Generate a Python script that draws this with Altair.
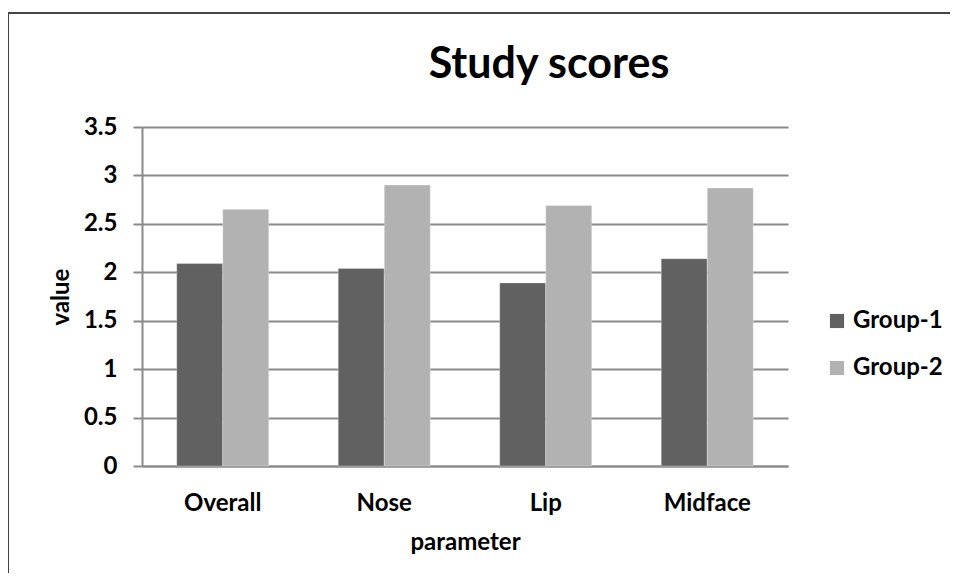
import altair as alt
import pandas as pd

categories = ["Overall", "Nose", "Lip", "Midface"]
groups = ["Group-1", "Group-2"]
group1 = [2.09, 2.04, 1.89, 2.14]
group2 = [2.65, 2.90, 2.69, 2.87]
y_ticks = [0, 0.5, 1, 1.5, 2, 2.5, 3, 3.5]

rows = []
for c, a, b in zip(categories, group1, group2):
    rows.append({"parameter": c, "group": groups[0], "value": a})
    rows.append({"parameter": c, "group": groups[1], "value": b})
df = pd.DataFrame(rows)

FONT = "Lato"
FS = 24
W, H = 646, 339
PADL, PADT = 134, 119
PADR, PADB = 958 - 16 - PADL - W, 581 - 16 - PADT - H

txt = dict(labelFont=FONT, labelFontSize=FS, labelFontWeight="bold", labelColor="#000000",
           titleFont=FONT, titleFontSize=FS, titleFontWeight="bold", titleColor="#000000")

bars = alt.Chart(df).mark_bar(stroke="#ffffff", strokeWidth=0.6, strokeOpacity=0.5).encode(
    x=alt.X("parameter:N", sort=categories,
            scale=alt.Scale(paddingInner=0.43, paddingOuter=0.215),
            axis=alt.Axis(title="parameter", labelAngle=0, ticks=False, labelPadding=25,
                          titlePadding=15, domainColor="#8a8a8a", domainWidth=2, **txt)),
    xOffset=alt.XOffset("group:N", sort=groups),
    y=alt.Y("value:Q", scale=alt.Scale(domain=[0, 3.5], nice=False),
            axis=alt.Axis(title="value", values=y_ticks, format="~g", tickSize=9,
                          tickColor="#8a8a8a", tickWidth=2, domainColor="#8a8a8a",
                          domainWidth=2, gridColor="#8a8a8a", gridWidth=2,
                          labelPadding=16, titlePadding=10, **txt)),
    color=alt.Color("group:N", sort=groups,
                    scale=alt.Scale(domain=groups, range=["#616161", "#b2b2b2"]),
                    legend=alt.Legend(title=None, orient="none", legendX=683, legendY=182,
                                      symbolType="square", symbolSize=200,
                                      symbolStrokeWidth=0, rowPadding=23, labelOffset=4,
                                      labelFontSize=FS, labelFontWeight="bold",
                                      labelColor="#000000", labelFont=FONT)),
)

frame_top = alt.Chart(df).mark_rule(color="#444444", strokeWidth=1.5).encode(
    x=alt.value(-PADL), x2=alt.value(W + PADR + 10), y=alt.value(13 - 8 - PADT)
)
frame_left = alt.Chart(df).mark_rule(color="#444444", strokeWidth=1.5).encode(
    x=alt.value(-PADL), y=alt.value(13 - 8 - PADT), y2=alt.value(H + PADB + 10)
)

chart = alt.layer(bars, frame_top, frame_left).properties(
    width=W, height=H,
    title=alt.Title("Study scores", fontSize=43, font=FONT, fontWeight="bold",
                    color="#000000", anchor="middle", dx=84, dy=75, offset=0),
    autosize=alt.AutoSizeParams(type="none"),
    padding={"left": PADL, "top": PADT, "right": PADR, "bottom": PADB},
).configure(
    background="#ffffff"
).configure_view(
    stroke=None
)

chart.save("out.html", embed_options={"renderer": "svg", "actions": False})
